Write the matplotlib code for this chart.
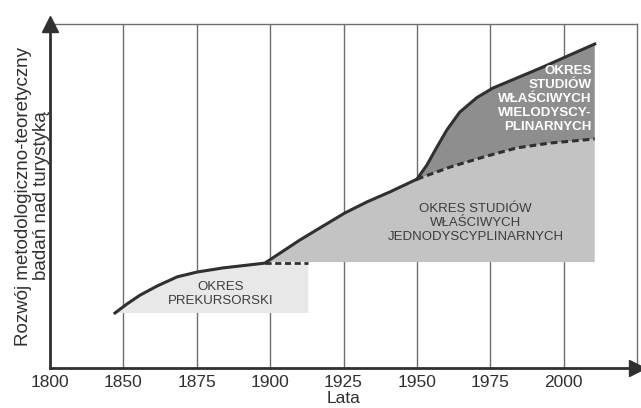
import numpy as np
import matplotlib
matplotlib.use("Agg")
import matplotlib.pyplot as plt

plt.rcParams['font.family'] = ['Liberation Sans', 'DejaVu Sans']

# Oś X: etykiety co 50/25 lat, rozstawione równo
tick_years = [1800, 1850, 1875, 1900, 1925, 1950, 1975, 2000, 2025]
tick_labels = ['1800', '1850', '1875', '1900', '1925', '1950', '1975', '2000']

# Główna krzywa rozwoju (lata, poziom 0-100)
curve_years = [1844.3, 1851.2, 1855.7, 1861.4, 1868.3, 1875.1, 1883.9, 1892.1, 1898.2,
               1910.1, 1916.9, 1925.5, 1933, 1940.8, 1950]
curve_level = [16.0, 18.6, 21.2, 23.8, 26.5, 27.9, 29.1, 29.9, 30.5,
               37.2, 40.7, 45.1, 48.3, 51.2, 54.9]

# Okres wielodyscyplinarny - górna krzywa po 1950
upper_years = [1950, 1953.4, 1956.8, 1960.2, 1964.6, 1970.4, 1975.9, 1984, 1992.9, 2002.1, 2010.6]
upper_level = [54.9, 59.0, 64.2, 69.2, 74.4, 78.6, 81.4, 84.3, 87.5, 91.0, 94.2]

# Linia przerywana - jednodyscyplinarne po 1950
dash_years = [1950, 1961.2, 1972.5, 1984, 1995.3, 2010.6]
dash_level = [54.9, 58.4, 61.3, 64.0, 65.4, 66.6]

# Granice obszarów
prek_end = 1913
prek_base = 16.0
jedn_base = 30.8
split_year = 1898.2


def pos(y):
    return np.interp(y, tick_years, np.arange(len(tick_years)))


fig = plt.figure(figsize=(6.41, 4.08), dpi=100)
ax = fig.add_axes([0.078, 0.098, 0.9158, 0.843])
ax.set_xlim(0, 8)
ax.set_ylim(0, 100)

# siatka pionowa
for i in range(1, 8):
    ax.axvline(i, color='#6e6e6e', lw=1.0, zorder=1)

# okres prekursorski
cx = pos(np.array(curve_years))
cy = np.array(curve_level)
k = curve_years.index(split_year)
px = np.r_[cx[:k + 1], pos(prek_end), pos(prek_end), cx[0]]
py = np.r_[cy[:k + 1], cy[k], prek_base, prek_base]
ax.fill(px, py, color='#e8e8e8', lw=0, zorder=2)

# okres jednodyscyplinarny
dx = pos(np.array(dash_years))
dy = np.array(dash_level)
mx = np.r_[cx[k:], dx[1:], dx[-1], cx[k]]
my = np.r_[cy[k:], dy[1:], jedn_base, jedn_base]
ax.fill(mx, my, color='#c3c3c3', lw=0, zorder=2)

# okres wielodyscyplinarny
ux = pos(np.array(upper_years))
uy = np.array(upper_level)
ax.fill(np.r_[ux, dx[::-1]], np.r_[uy, dy[::-1]], color='#8e8e8e', lw=0, zorder=2)

# linie
ax.plot(cx, cy, color='#303030', lw=2.2, zorder=4, solid_joinstyle='round')
ax.plot(ux, uy, color='#303030', lw=2.2, zorder=4, solid_joinstyle='round')
ax.plot(dx, dy, color='#303030', lw=2.2, ls=(0, (2.2, 1.3)), zorder=4)
ax.plot([cx[k], pos(prek_end)], [cy[k], cy[k]], color='#303030',
        lw=2.0, ls=(0, (2.2, 1.3)), zorder=4)

# opisy
ax.text(pos(1883), 21.6, 'OKRES\nPREKURSORSKI', ha='center', va='center',
        fontsize=9.5, color='#3c3c3c', linespacing=1.2, zorder=5)
ax.text(pos(1970), 42.2, 'OKRES STUDIÓW\nWŁAŚCIWYCH\nJEDNODYSCYPLINARNYCH',
        ha='center', va='center', fontsize=9.5, color='#3c3c3c', linespacing=1.25, zorder=5)
ax.text(pos(2009.5), 78.2, 'OKRES\nSTUDIÓW\nWŁAŚCIWYCH\nWIELODYSCY-\nPLINARNYCH',
        ha='right', va='center', fontsize=9.6, fontweight='bold', color='white',
        linespacing=1.2, zorder=5)

# osie
ax.spines['left'].set_color('#303030')
ax.spines['left'].set_linewidth(2.0)
ax.spines['bottom'].set_color('#303030')
ax.spines['bottom'].set_linewidth(2.0)
ax.spines['top'].set_color('#6e6e6e')
ax.spines['right'].set_color('#6e6e6e')
ax.spines['top'].set_linewidth(1.0)
ax.spines['right'].set_linewidth(1.0)
for s in ax.spines.values():
    s.set_zorder(6)

ax.plot(0, 1.0, marker='^', markersize=12, color='#303030', transform=ax.transAxes,
        clip_on=False, zorder=7)
ax.plot(1.0, 0, marker='>', markersize=12, color='#303030', transform=ax.transAxes,
        clip_on=False, zorder=7)

ax.set_xticks(range(8))
ax.set_xticklabels(tick_labels, fontsize=12.5, color='#303030')
ax.tick_params(axis='x', length=0, pad=5)
ax.set_yticks([])
ax.set_xlabel('Lata', fontsize=12.5, color='#303030', labelpad=1)
ax.set_ylabel('Rozwój metodologiczno-teoretyczny\nbadań nad turystyką', fontsize=13.5,
              color='#303030', labelpad=0, linespacing=1.05)

fig.savefig('out.png', dpi=100)
